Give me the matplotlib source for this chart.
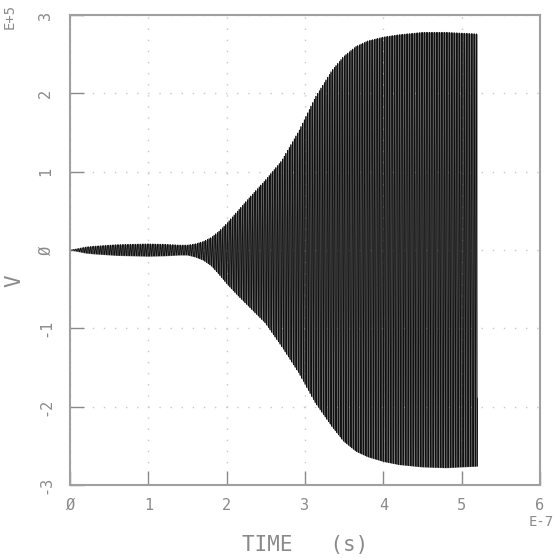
import numpy as np
import matplotlib
matplotlib.use("Agg")
import matplotlib.pyplot as plt

# Envelope of V(t) (time in units of 1e-7 s, V in units of 1e5)
env_time = [0.0, 0.1, 0.2, 0.3, 0.45, 0.6, 0.8, 1.0, 1.2, 1.4, 1.5, 1.6, 1.7,
            1.8, 1.9, 2.0, 2.14, 2.28, 2.49, 2.7, 2.92, 3.13, 3.34, 3.49, 3.65,
            3.8, 4.0, 4.2, 4.5, 4.8, 5.0, 5.2]
env_upper = [0.0, 0.02, 0.04, 0.05, 0.06, 0.07, 0.075, 0.08, 0.075, 0.065, 0.065,
             0.08, 0.11, 0.16, 0.24, 0.34, 0.50, 0.66, 0.89, 1.14, 1.52, 1.95,
             2.29, 2.47, 2.60, 2.67, 2.72, 2.75, 2.78, 2.78, 2.77, 2.76]
env_lower = [0.0, -0.02, -0.04, -0.05, -0.06, -0.07, -0.075, -0.08, -0.075, -0.065,
             -0.065, -0.09, -0.13, -0.20, -0.31, -0.43, -0.58, -0.72, -0.93, -1.23,
             -1.57, -1.95, -2.25, -2.44, -2.57, -2.64, -2.70, -2.74, -2.77, -2.78,
             -2.77, -2.76]
carrier_cycles = 46.9   # oscillations per 1e-7 s

x_ticks = [0, 1, 2, 3, 4, 5, 6]
x_labels = ["Ø", "1", "2", "3", "4", "5", "6"]
y_ticks = [-3, -2, -1, 0, 1, 2, 3]
y_labels = ["-3", "-2", "-1", "Ø", "1", "2", "3"]

grey = "#8a8a8a"
plt.rcParams["font.family"] = "DejaVu Sans Mono"

fig = plt.figure(figsize=(5.53, 5.58), dpi=100)
ax = fig.add_axes([70 / 553, 1 - 485 / 558, 470 / 553, 470 / 558])

t = np.linspace(env_time[0], env_time[-1], 60000)
up = np.interp(t, env_time, env_upper)
lo = np.interp(t, env_time, env_lower)
mid = (up + lo) / 2
amp = (up - lo) / 2
v = mid + amp * np.sin(2 * np.pi * carrier_cycles * t)
# grey underlay stands in for the sub-pixel trace density
ax.fill_between(t, lo, up, color="#858585", linewidth=0)
ax.plot(t, v, color="#111111", linewidth=0.45)

ax.set_xlim(0, 6)
ax.set_ylim(-3, 3)
ax.set_xticks(x_ticks)
ax.set_xticklabels(x_labels)
ax.set_yticks(y_ticks)
ax.set_yticklabels(y_labels, rotation=90, va="center")
ax.tick_params(direction="in", length=10, width=1, colors=grey,
               labelsize=11, pad=9)
ax.tick_params(axis="y", pad=12)

ax.grid(True, linestyle=(0, (1, 7)), color="#c8c8c8", linewidth=1)
for s in ax.spines.values():
    s.set_color("#a0a0a0")
    s.set_linewidth(1.5)

fig.text(305 / 553, 1 - 545 / 558, "TIME   (s)", color=grey, fontsize=15,
         ha="center", va="center")
fig.text(14 / 553, 0.5 - 2 / 558, "V", color=grey, fontsize=15,
         rotation=90, ha="center", va="center")
fig.text(10 / 553, 1 - 16 / 558, "E+5", color=grey, fontsize=10,
         rotation=90, ha="center", va="center")
fig.text(541 / 553, 1 - 522 / 558, "E-7", color=grey, fontsize=10,
         ha="center", va="center")

fig.savefig("out.png", dpi=100)
